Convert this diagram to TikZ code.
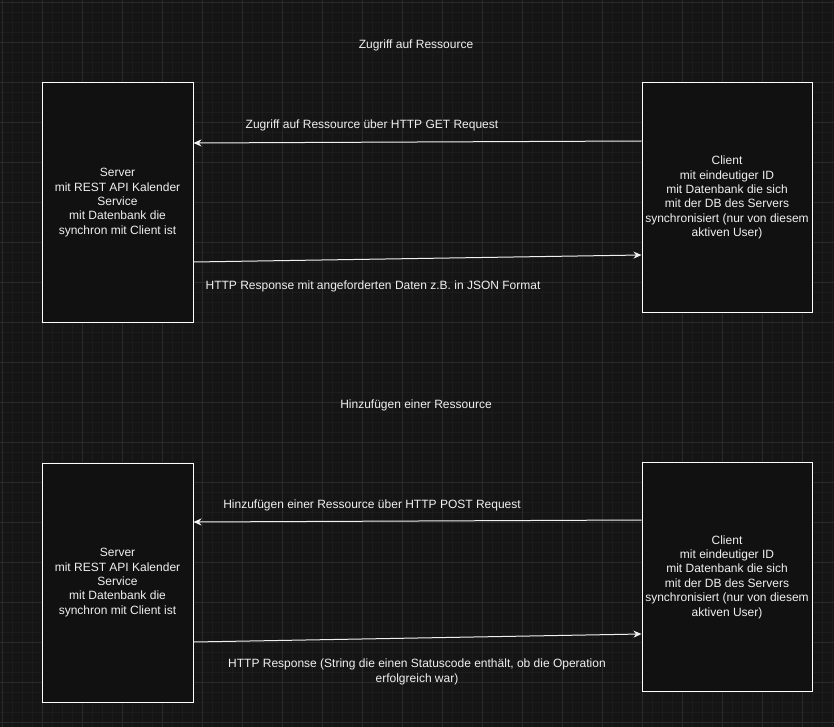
\documentclass[tikz,border=0pt]{standalone}
\usepackage{fontspec}
\setmainfont{Liberation Sans}
\usetikzlibrary{arrows.meta}
\definecolor{canvas}{HTML}{151515}
\definecolor{gridminor}{HTML}{1C1C1C}
\definecolor{gridmajor}{HTML}{2A2A2A}
\definecolor{boxfill}{HTML}{111111}
\definecolor{ink}{HTML}{F0F0F0}
\begin{document}
\begin{tikzpicture}[
    x=1pt, y=-1pt,
    every node/.style={text=ink, font=\fontsize{12}{14.4}\selectfont, align=center},
    srvbox/.style={draw=white, fill=boxfill, line width=1pt, minimum width=151pt, minimum height=239pt, inner sep=0pt},
    clibox/.style={draw=white, fill=boxfill, line width=1pt, minimum width=170pt, minimum height=229pt, inner sep=0pt},
    msg/.style={draw=ink, line width=1pt, -{Stealth[length=8pt,width=7pt,inset=2.5pt]}}
    ]
	% background and grid
	\fill[canvas] (0,0) rectangle (834,727);
	\begin{scope}
		\clip (0,0) rectangle (834,727);
		\draw[gridminor, line width=0.6pt, shift={(2.7,2.7)}, step=10pt] (-10,-10) grid (840,730);
		\draw[gridmajor, line width=0.8pt, shift={(2.7,2.7)}, step=40pt] (-40,-40) grid (840,730);
	\end{scope}
	\useasboundingbox (0,0) rectangle (834,727);

	% Zugriff
	\node (title1) at (416,45) {Zugriff auf Ressource};
	\node [srvbox] (srv1) at (117.5,202.5) {Server\\mit REST API Kalender\\Service\\mit Datenbank die\\synchron mit Client ist};
	\node [clibox] (cli1) at (727,197.5) {Client\\mit eindeutiger ID\\mit Datenbank die sich\\mit der DB des Servers\\synchronisiert (nur von diesem\\aktiven User)};
	\draw [msg] ([yshift=56.5pt]cli1.west) -- ([yshift=59.5pt]srv1.east);
	\draw [msg] ([yshift=-59.5pt]srv1.east) -- ([yshift=-57.5pt]cli1.west);
	\node (get) at (372,125) {Zugriff auf Ressource über HTTP GET Request};
	\node (resp1) at (373,286.5) {HTTP Response mit angeforderten Daten z.B. in JSON Format};

	% Hinzufuegen
	\node (title2) at (416,405) {Hinzufügen einer Ressource};
	\node [srvbox] (srv2) at (117.5,582.5) {Server\\mit REST API Kalender\\Service\\mit Datenbank die\\synchron mit Client ist};
	\node [clibox] (cli2) at (727,577) {Client\\mit eindeutiger ID\\mit Datenbank die sich\\mit der DB des Servers\\synchronisiert (nur von diesem\\aktiven User)};
	\draw [msg] ([yshift=57pt]cli2.west) -- ([yshift=60.5pt]srv2.east);
	\draw [msg] ([yshift=-59.5pt]srv2.east) -- ([yshift=-57pt]cli2.west);
	\node (post) at (372,505) {Hinzufügen einer Ressource über HTTP POST Request};
	\node (resp2) at (417,672) {HTTP Response (String die einen Statuscode enthält, ob die Operation\\erfolgreich war)};
\end{tikzpicture}
\end{document}
